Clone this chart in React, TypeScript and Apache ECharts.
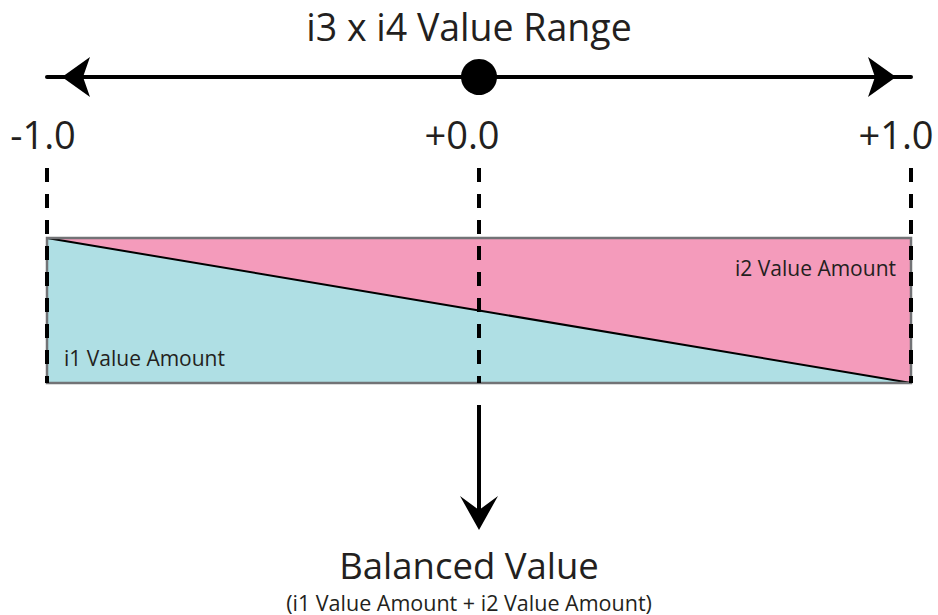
import React, { useEffect, useRef } from 'react';
import * as echarts from 'echarts';

// ---- data ----
const chartTitle = 'i3 x i4 Value Range';
const rangeTicks = [-1, 0, 1];
const tickLabels = ['-1.0', '+0.0', '+1.0'];
const xPositions = [-1, 0, 1];
const i1Values = [1, 0.5, 0];
const i2Values = [0, 0.5, 1];
const seriesNames = ['i1 Value Amount', 'i2 Value Amount'];
const resultTitle = 'Balanced Value';
const resultSubtitle = '(i1 Value Amount + i2 Value Amount)';

const FONT = '"Open Sans", "Noto Sans", sans-serif';
const TEXT = '#231f20';
const CYAN = '#afdfe4';
const PINK = '#f49bbb';
const AXIS_OFFSET = 161;

export default function App() {
  const ref = useRef<HTMLDivElement>(null);

  useEffect(() => {
    if (!ref.current) return;
    const chart = echarts.init(ref.current, null, { renderer: 'svg' });
    const richKeys = ['l', 'm', 'r'];

    const option: any = {
      animation: false,
      backgroundColor: '#ffffff',
      title: [
        {
          text: chartTitle,
          left: 'center',
          top: 1,
          textStyle: { fontFamily: FONT, fontSize: 37.5, fontWeight: 'normal', color: TEXT, lineHeight: 40 },
        },
        {
          text: resultTitle,
          subtext: resultSubtitle,
          left: 'center',
          top: 540,
          itemGap: 8,
          textStyle: { fontFamily: FONT, fontSize: 36.5, fontWeight: 'normal', color: TEXT, lineHeight: 40 },
          subtextStyle: { fontFamily: FONT, fontSize: 21.5, color: TEXT, lineHeight: 18 },
        },
      ],
      grid: { left: 47, right: 27, top: 238, height: 145, outerBoundsMode: 'none' },
      xAxis: [
        {
          type: 'value', min: -1, max: 1, interval: 1,
          axisLine: { show: false, onZero: false }, axisTick: { show: false }, axisLabel: { show: false }, splitLine: { show: false },
        },
        {
          type: 'value', min: -1, max: 1, interval: 1, position: 'top', offset: AXIS_OFFSET,
          axisLine: {
            show: true, onZero: false, symbol: ['arrow', 'arrow'], symbolSize: [30, 28], symbolOffset: [15, -15],
            lineStyle: { color: '#000', width: 4 },
          },
          axisTick: { show: false },
          splitLine: { show: false },
          axisLabel: {
            inside: true,
            margin: 38,
            formatter: (v: number) => {
              const i = rangeTicks.indexOf(v);
              return i >= 0 ? `{${richKeys[i]}|${tickLabels[i]}}` : '';
            },
            rich: {
              l: { fontFamily: FONT, fontSize: 38, color: TEXT, padding: [0, 8, 0, 0] },
              m: { fontFamily: FONT, fontSize: 38, color: TEXT, padding: [0, 34, 0, 0] },
              r: { fontFamily: FONT, fontSize: 38, color: TEXT, padding: [0, 30, 0, 0] },
            },
          },
        },
      ],
      yAxis: [
        { type: 'value', min: 0, max: 1, show: false },
        // i2 is measured downward from the top edge of the band
        { type: 'value', min: 0, max: 1, inverse: true, show: false },
      ],
      series: [
        {
          name: seriesNames[1], type: 'line', symbol: 'none', yAxisIndex: 1,
          data: xPositions.map((x, i) => [x, i2Values[i]]),
          lineStyle: { width: 0 },
          areaStyle: { color: PINK, opacity: 1, origin: 'start' },
          z: 2,
        },
        {
          name: seriesNames[0], type: 'line', symbol: 'none', yAxisIndex: 0,
          data: xPositions.map((x, i) => [x, i1Values[i]]),
          lineStyle: { color: '#000', width: 2 },
          areaStyle: { color: CYAN, opacity: 1, origin: 'start' },
          z: 3,
        },
        {
          type: 'custom', z: 5, silent: true, clip: false,
          xAxisIndex: 0, yAxisIndex: 0,
          data: rangeTicks.map((v) => [v, 0]),
          encode: { x: 0, y: 1 },
          renderItem: (params: any, api: any) => {
            const v = api.value(0);
            const top = api.coord([v, 1]);
            const bottom = api.coord([v, 0]);
            const children: any[] = [];
            if (params.dataIndex === 0) {
              const tl = api.coord([rangeTicks[0], 1]);
              const br = api.coord([rangeTicks[rangeTicks.length - 1], 0]);
              children.push({
                type: 'rect',
                shape: { x: tl[0], y: tl[1], width: br[0] - tl[0], height: br[1] - tl[1] },
                style: { fill: 'none', stroke: '#727376', lineWidth: 2.5 },
              });
            }
            children.push({
              type: 'line',
              shape: { x1: top[0], y1: top[1] - 70, x2: top[0], y2: bottom[1] },
              style: { stroke: '#000', lineWidth: 4, lineDash: [14, 12] },
            });
            return { type: 'group', children };
          },
        },
      ],
    };

    chart.setOption(option);

    const x0 = chart.convertToPixel({ xAxisIndex: 0 }, 0) as number;
    const xl = chart.convertToPixel({ xAxisIndex: 0 }, -1) as number;
    const xr = chart.convertToPixel({ xAxisIndex: 0 }, 1) as number;
    const yb = chart.convertToPixel({ yAxisIndex: 0 }, 0) as number;
    const yt = chart.convertToPixel({ yAxisIndex: 0 }, 1) as number;
    const axisY = yt - AXIS_OFFSET;

    chart.setOption({
      graphic: [
        { type: 'circle', shape: { cx: x0, cy: axisY, r: 18 }, style: { fill: '#000' }, z: 10 },
        { type: 'line', shape: { x1: x0, y1: yb + 22, x2: x0, y2: yb + 130 }, style: { stroke: '#000', lineWidth: 4 }, z: 10 },
        {
          type: 'polygon',
          shape: { points: [[x0, yb + 147], [x0 - 19, yb + 113], [x0, yb + 127], [x0 + 19, yb + 113]] },
          style: { fill: '#000' }, z: 10,
        },
        {
          type: 'text', x: xl + 17, y: yb - 25, z: 10,
          style: { text: seriesNames[0], fontFamily: FONT, fontSize: 21, fill: TEXT, textAlign: 'left', textVerticalAlign: 'middle' },
        },
        {
          type: 'text', x: xr - 15, y: yt + 30, z: 10,
          style: { text: seriesNames[1], fontFamily: FONT, fontSize: 21, fill: TEXT, textAlign: 'right', textVerticalAlign: 'middle' },
        },
      ],
    });

    return () => chart.dispose();
  }, []);

  return <div ref={ref} style={{ position: 'fixed', left: 0, top: 0, width: 938, height: 615 }} />;
}
